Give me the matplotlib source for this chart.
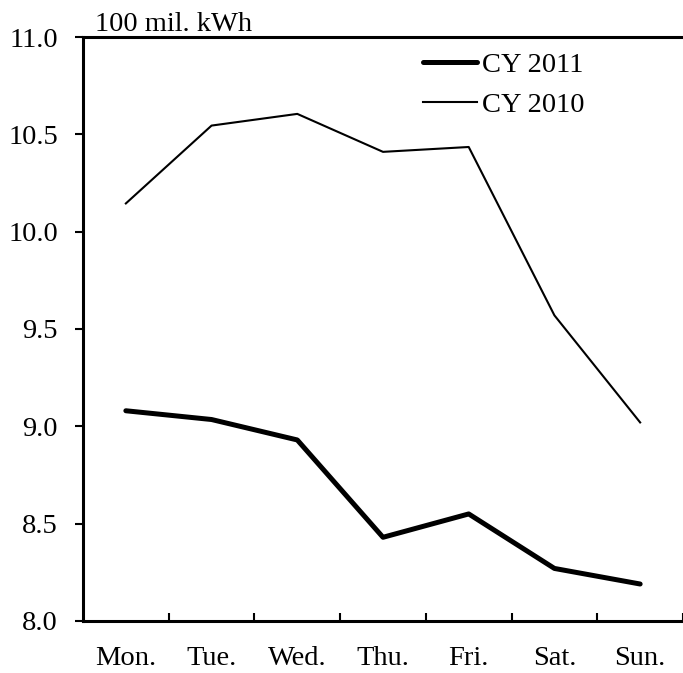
import matplotlib
matplotlib.use("Agg")
import matplotlib.pyplot as plt
from matplotlib.ticker import FixedLocator, NullFormatter

days = ["Mon.", "Tue.", "Wed.", "Thu.", "Fri.", "Sat.", "Sun."]
cy2011 = [9.08, 9.035, 8.93, 8.43, 8.55, 8.27, 8.19]
cy2010 = [10.145, 10.545, 10.605, 10.41, 10.435, 9.57, 9.02]
yticks = [8.0, 8.5, 9.0, 9.5, 10.0, 10.5, 11.0]
unit_label = "100 mil. kWh"

plt.rcParams['font.family'] = ['Liberation Serif', 'DejaVu Serif']
FS = 20.5

fig = plt.figure(figsize=(6.83, 6.73), dpi=100)
ax = fig.add_axes([83/683, 1-621/673, 1-83/683, (621-37)/673])

x = list(range(len(days)))
ax.plot(x, cy2011, color='black', lw=3.6, label='CY 2011', solid_capstyle='round')
ax.plot(x, cy2010, color='black', lw=1.5, label='CY 2010')

ax.set_xlim(-0.5, len(days) - 0.5)
ax.set_ylim(8.0, 11.0)
ax.set_yticks(yticks)
ax.set_yticklabels([f"{v:.1f}" for v in yticks], fontsize=FS)

ax.set_xticks(x)
ax.set_xticklabels(days, fontsize=FS)
ax.tick_params(axis='x', which='major', length=0, pad=18)
ax.xaxis.set_minor_locator(FixedLocator([i + 0.5 for i in x]))
ax.xaxis.set_minor_formatter(NullFormatter())
ax.tick_params(axis='x', which='minor', direction='in', length=6, width=1.5)
ax.tick_params(axis='y', direction='out', length=6, width=1.5, pad=12)

for s in ['left', 'bottom', 'top']:
    ax.spines[s].set_linewidth(2.2)
ax.spines['right'].set_visible(False)

ax.annotate(unit_label, xy=(0.02, 1.0), xycoords='axes fraction',
            xytext=(0, 4.5), textcoords='offset points',
            fontsize=FS, ha='left', va='baseline')

leg = ax.legend(loc='upper left', bbox_to_anchor=(0.567, 0.975), frameon=False,
                fontsize=FS, handlelength=1.9, handletextpad=0.18,
                labelspacing=0.52, borderpad=0, borderaxespad=0)

fig.savefig("out.png", dpi=100)
